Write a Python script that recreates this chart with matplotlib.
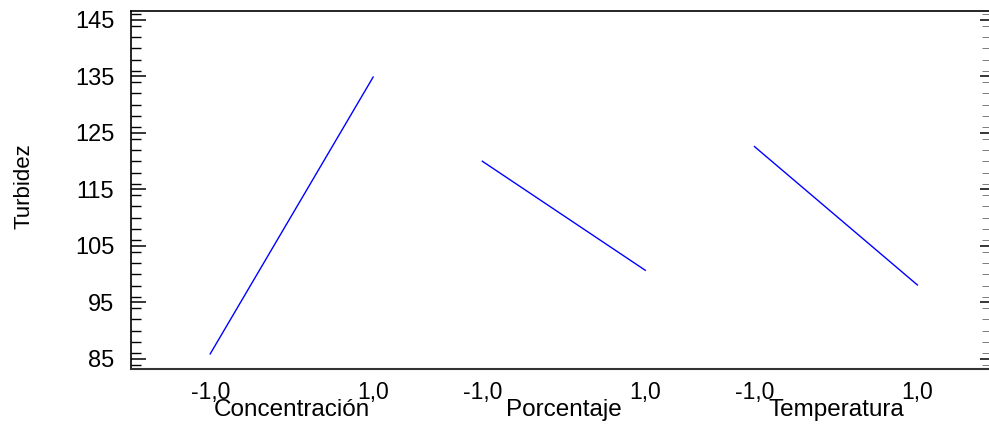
import numpy as np
import matplotlib
matplotlib.use("Agg")
import matplotlib.pyplot as plt
from matplotlib.ticker import MultipleLocator
from matplotlib.transforms import blended_transform_factory

# ---- data ----
factors = ["Concentración", "Porcentaje", "Temperatura"]
levels = [-1.0, 1.0]
level_labels = ["-1,0", "1,0"]
low_values = [85.9, 120.0, 122.6]    # response at -1
high_values = [134.9, 100.7, 98.1]   # response at +1
y_ticks = [85, 95, 105, 115, 125, 135, 145]
y_label = "Turbidez"

# ---- layout ----
plt.rcParams["font.family"] = ["Liberation Sans", "DejaVu Sans"]
W, H = 989, 430
fig = plt.figure(figsize=(W / 100, H / 100), dpi=100)
ax = fig.add_axes([131 / W, 1 - 369 / H, (994 - 131) / W, (369 - 11) / H])

spacing = 3.34
centers = np.arange(len(factors)) * spacing

for c, lo, hi in zip(centers, low_values, high_values):
    ax.plot([c + levels[0], c + levels[1]], [lo, hi], color="#0000ff", lw=1.0)

ax.set_xlim(-1.972, centers[-1] + 1.94)
ax.set_ylim(83.23, 146.59)

xt = []
xl = []
for c in centers:
    for lv, lab in zip(levels, level_labels):
        xt.append(c + lv)
        xl.append(lab)
ax.set_xticks(xt)
ax.set_xticklabels(xl, fontsize=16.5)
ax.tick_params(axis="x", length=0, pad=9)

ax.set_yticks(y_ticks)
ax.set_yticklabels([str(v) for v in y_ticks], fontsize=17)
ax.yaxis.set_minor_locator(MultipleLocator(2))
ax.tick_params(axis="y", which="major", direction="in", length=10.8, width=1.1,
               left=True, right=False, pad=12)
ax.tick_params(axis="y", which="minor", direction="in", length=7.2, width=1.0,
               left=True, right=False)

for s in ax.spines.values():
    s.set_linewidth(1.2)
    s.set_color("black")
ax.spines["right"].set_visible(False)
ax.spines["bottom"].set_color("#333333")
ax.spines["bottom"].set_linewidth(1.5)

# right-hand ticks (the right frame line lies just outside the picture)
rt = ax.twinx()
rt.set_ylim(ax.get_ylim())
rt.set_yticks(y_ticks)
rt.set_yticklabels([])
rt.yaxis.set_minor_locator(MultipleLocator(2))
rt.tick_params(axis="y", which="major", direction="in", length=10.0, width=1.1,
               right=True, left=False)
rt.tick_params(axis="y", which="minor", direction="in", length=8.6, width=0.6,
               color="#666666", right=True, left=False)
for s in rt.spines.values():
    s.set_visible(False)

trans = blended_transform_factory(ax.transData, ax.transAxes)
for c, name in zip(centers, factors):
    ax.text(c, (369 - 416) / 358, name, transform=trans, ha="center",
            va="baseline", fontsize=17.5)

fig.text(23.5 / W, 1 - 186 / H, y_label, rotation=90, ha="center", va="center",
         fontsize=16)

fig.savefig("out.png", dpi=100)
